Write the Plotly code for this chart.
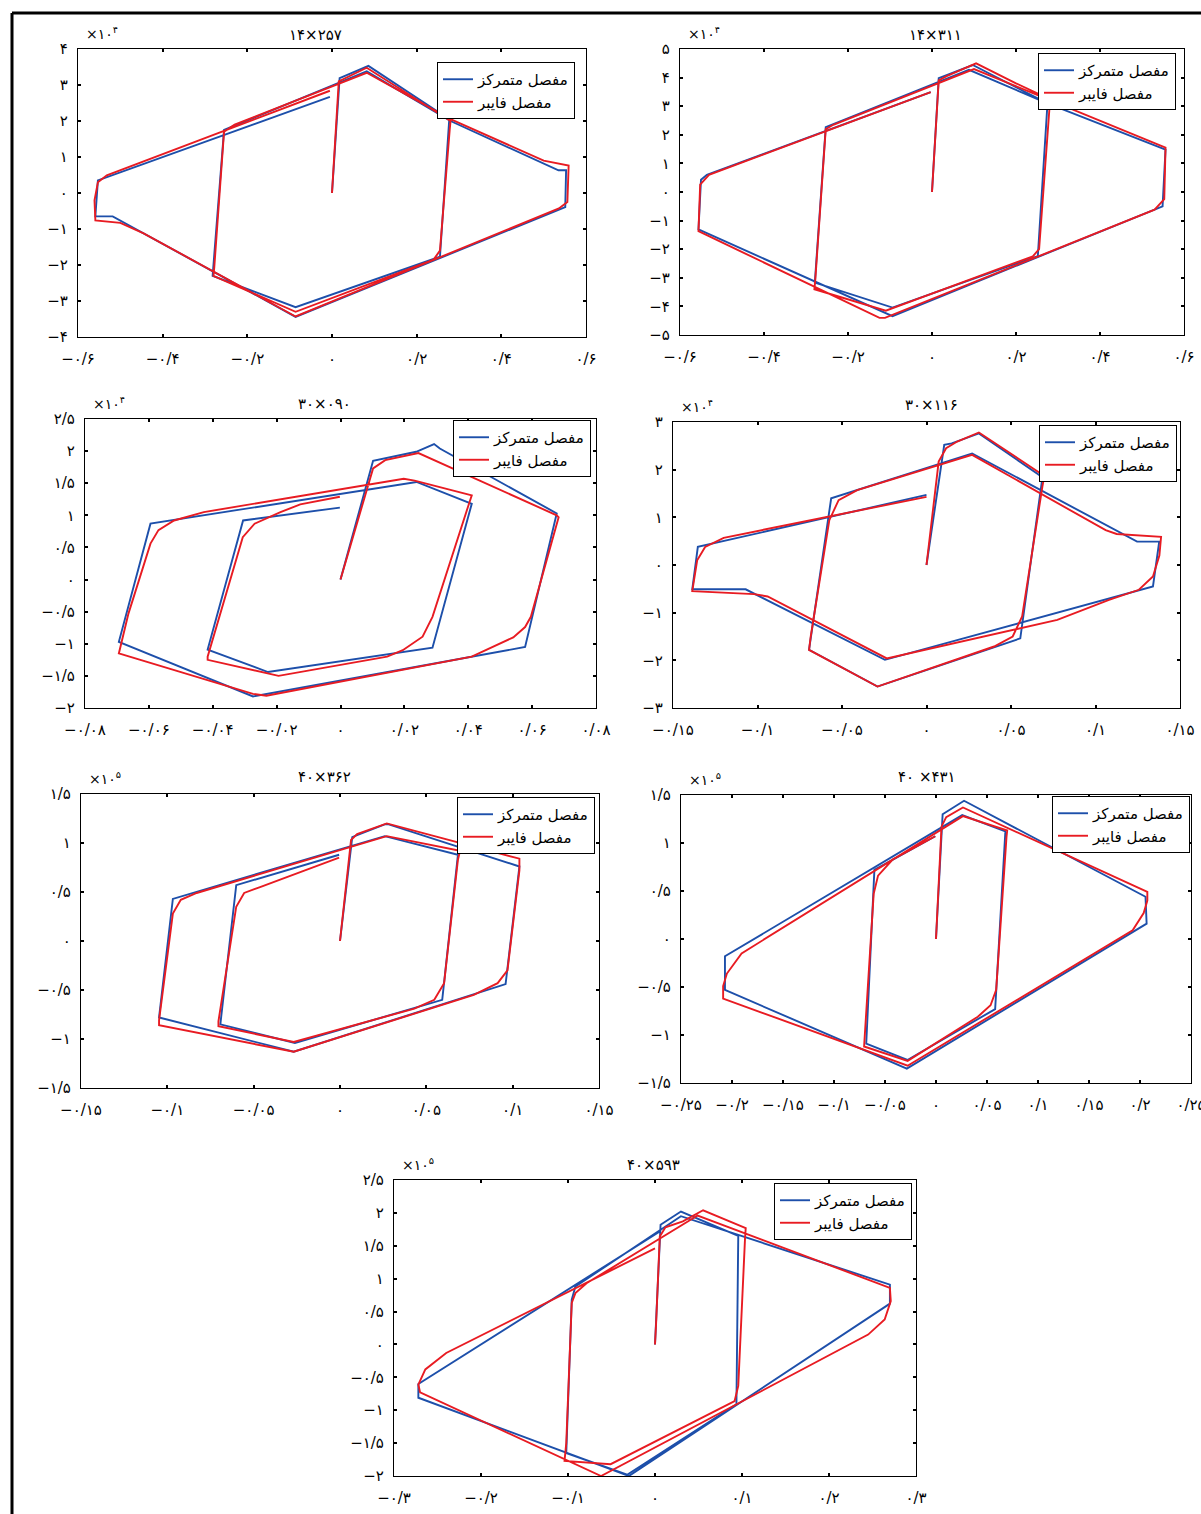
import plotly.graph_objects as go

W, H = 1201, 1514

# ---------------- data (force in axis units: x10^4 or x10^5 as labelled) ----------------
lumped_14x257 = [(0, 0), (0.018, 3.19), (0.086, 3.53), (0.277, 2.05), (0.255, -1.77), (-0.086, -3.17),
                 (-0.282, -2.3), (-0.255, 1.75), (0.082, 3.38), (0.28, 2.0), (0.535, 0.63), (0.553, 0.63),
                 (0.551, -0.39), (-0.086, -3.44), (-0.518, -0.65), (-0.559, -0.65), (-0.553, 0.35),
                 (-0.005, 2.67)]
fiber_14x257 = [(0, 0), (0.016, 3.1), (0.082, 3.48), (0.28, 2.0), (0.278, 1.75), (0.255, -1.6), (0.24, -1.85),
                (-0.086, -3.3), (-0.28, -2.3), (-0.278, -2.05), (-0.255, 1.7), (-0.23, 1.9), (0.082, 3.34),
                (0.28, 2.05), (0.5, 0.9), (0.536, 0.81), (0.559, 0.76), (0.556, -0.25), (0.536, -0.43),
                (-0.086, -3.43), (-0.445, -1.12), (-0.5, -0.83), (-0.559, -0.76), (-0.561, -0.2),
                (-0.553, 0.3), (-0.532, 0.49), (-0.005, 2.84)]

lumped_14x311 = [(0, 0), (0.016, 3.98), (0.097, 4.44), (0.275, 3.1), (0.252, -2.24), (-0.094, -4.04),
                 (-0.279, -3.17), (-0.253, 2.27), (0.088, 4.27), (0.275, 3.1), (0.556, 1.48), (0.549, -0.5),
                 (-0.094, -4.34), (-0.556, -1.31), (-0.55, 0.43), (-0.536, 0.6), (-0.003, 3.49)]
fiber_14x311 = [(0, 0), (0.016, 3.9), (0.035, 4.05), (0.105, 4.5), (0.2, 3.8), (0.28, 3.25), (0.28, 3.0),
                (0.255, -2.0), (0.24, -2.25), (-0.11, -4.15), (-0.28, -3.4), (-0.278, -3.1), (-0.253, 2.2),
                (-0.235, 2.35), (0.1, 4.3), (0.556, 1.55), (0.553, -0.25), (0.53, -0.62), (-0.112, -4.4),
                (-0.125, -4.4), (-0.556, -1.37), (-0.552, 0.26), (-0.531, 0.6), (-0.003, 3.49)]

lumped_30x090 = [(0, 0), (0.0102, 1.85), (0.0237, 1.99), (0.0293, 2.11), (0.0311, 2.04), (0.0677, 1.03),
                 (0.0578, -1.05), (-0.0274, -1.82), (-0.0694, -0.97), (-0.0595, 0.87), (0.0238, 1.52),
                 (0.0411, 1.18), (0.0288, -1.06), (-0.0227, -1.44), (-0.0416, -1.09), (-0.0305, 0.92),
                 (-0.0002, 1.12)]
fiber_30x090 = [(0, 0), (0.0084, 1.44), (0.0102, 1.73), (0.014, 1.86), (0.0244, 1.97), (0.0677, 1.0),
                (0.0683, 0.97), (0.0596, -0.58), (0.0578, -0.74), (0.0541, -0.9), (0.0467, -1.07),
                (0.0411, -1.2), (-0.0232, -1.81), (-0.0274, -1.78), (-0.0694, -1.15), (-0.0664, -0.53),
                (-0.0595, 0.56), (-0.057, 0.77), (-0.0521, 0.92), (-0.0428, 1.05), (0.0198, 1.57),
                (0.0232, 1.54), (0.0411, 1.31), (0.0399, 1.13), (0.0288, -0.58), (0.0257, -0.89),
                (0.0195, -1.1), (0.0146, -1.2), (-0.0194, -1.5), (-0.0416, -1.25), (-0.0416, -1.2),
                (-0.0306, 0.66), (-0.0269, 0.87), (-0.0188, 1.05), (-0.0126, 1.17), (-0.0002, 1.29)]

lumped_30x116 = [(0, 0), (0.0105, 2.52), (0.0149, 2.55), (0.031, 2.76), (0.0686, 1.84), (0.0555, -1.54),
                 (-0.029, -2.55), (-0.0695, -1.78), (-0.0564, 1.4), (0.027, 2.34), (0.1246, 0.49),
                 (0.1377, 0.49), (0.134, -0.45), (-0.0246, -1.99), (-0.107, -0.51), (-0.1386, -0.51),
                 (-0.1353, 0.38), (0.0, 1.47)]
fiber_30x116 = [(0, 0), (0.0072, 2.17), (0.0116, 2.45), (0.0182, 2.59), (0.031, 2.78), (0.0697, 1.87),
                (0.0686, 1.65), (0.0566, -1.08), (0.051, -1.5), (0.04, -1.71), (-0.029, -2.55),
                (-0.0695, -1.78), (-0.0685, -1.5), (-0.0575, 0.94), (-0.052, 1.36), (-0.041, 1.57),
                (0.027, 2.31), (0.106, 0.73), (0.1125, 0.65), (0.1388, 0.59), (0.1378, 0.2), (0.134, -0.24),
                (0.1257, -0.52), (0.108, -0.73), (0.0774, -1.15), (-0.0235, -1.96), (-0.094, -0.66),
                (-0.102, -0.61), (-0.1386, -0.55), (-0.1357, 0.1), (-0.131, 0.38), (-0.12, 0.57), (0.0, 1.43)]

lumped_40x362 = [(0, 0), (0.0071, 1.06), (0.0099, 1.08), (0.0259, 1.19), (0.0282, 1.19), (0.1039, 0.76),
                 (0.0959, -0.44), (-0.0268, -1.13), (-0.1048, -0.78), (-0.0968, 0.43), (0.0259, 1.07),
                 (0.0683, 0.88), (0.0592, -0.6), (-0.0261, -1.04), (-0.0693, -0.85), (-0.0601, 0.57),
                 (-0.0005, 0.88)]
fiber_40x362 = [(0, 0), (0.0064, 1.03), (0.0099, 1.09), (0.0271, 1.2), (0.1039, 0.84), (0.1039, 0.72),
                (0.097, -0.3), (0.0913, -0.43), (0.0775, -0.55), (-0.0268, -1.13), (-0.1048, -0.86),
                (-0.1048, -0.81), (-0.0968, 0.28), (-0.0922, 0.42), (-0.083, 0.49), (0.0271, 1.07),
                (0.0695, 0.92), (0.0683, 0.83), (0.0603, -0.43), (0.0546, -0.6), (0.0431, -0.69),
                (-0.0268, -1.03), (-0.0704, -0.87), (-0.0704, -0.82), (-0.0601, 0.35), (-0.0555, 0.49),
                (-0.0463, 0.55), (-0.0005, 0.85)]

lumped_40x431 = [(0, 0), (0.0065, 1.3), (0.0275, 1.44), (0.2054, 0.44), (0.2065, 0.16), (-0.0286, -1.35),
                 (-0.2069, -0.53), (-0.2069, -0.18), (0.0257, 1.29), (0.068, 1.12), (0.058, -0.73),
                 (-0.028, -1.26), (-0.0684, -1.09), (-0.0604, 0.72), (-0.0007, 1.07)]
fiber_40x431 = [(0, 0), (0.0054, 1.17), (0.01, 1.27), (0.0264, 1.37), (0.2072, 0.49), (0.2072, 0.4),
                (0.2036, 0.27), (0.1928, 0.09), (-0.0278, -1.32), (-0.2087, -0.62), (-0.2087, -0.49),
                (-0.205, -0.36), (-0.1906, -0.15), (0.0264, 1.28), (0.0698, 1.13), (0.0691, 1.06),
                (0.059, -0.53), (0.0535, -0.69), (0.041, -0.81), (-0.0278, -1.27), (-0.0705, -1.12),
                (-0.0611, 0.47), (-0.0568, 0.66), (-0.0423, 0.83), (-0.0007, 1.07)]

lumped_40x593 = [(0, 0), (0.0064, 1.82), (0.0298, 2.02), (0.0957, 1.65), (0.0936, -0.91), (-0.032, -1.98),
                 (-0.102, -1.65), (-0.0957, 0.68), (-0.0915, 0.88), (0.0298, 1.95), (0.27, 0.91),
                 (0.27, 0.62), (-0.03, -2.0), (-0.272, -0.81), (-0.272, -0.6), (0.006, 1.72)]
fiber_40x593 = [(0, 0), (0.0013, 0.33), (0.0055, 1.64), (0.012, 1.78), (0.032, 1.87), (0.0553, 2.04),
                (0.1043, 1.77), (0.1035, 1.62), (0.0957, -0.63), (0.0915, -0.86), (0.083, -0.92),
                (-0.051, -1.82), (-0.104, -1.77), (-0.102, -1.5), (-0.0957, 0.63), (-0.0915, 0.78),
                (-0.0787, 0.93), (0.049, 1.96), (0.27, 0.86), (0.271, 0.66), (0.264, 0.38), (0.245, 0.15),
                (-0.062, -2.0), (-0.223, -1.01), (-0.27, -0.73), (-0.272, -0.61), (-0.264, -0.38),
                (-0.24, -0.13), (0.0, 1.46)]

# tick values
xticks_14 = [-0.6, -0.4, -0.2, 0, 0.2, 0.4, 0.6]
xticks_30a = [-0.08, -0.06, -0.04, -0.02, 0, 0.02, 0.04, 0.06, 0.08]
xticks_015 = [-0.15, -0.1, -0.05, 0, 0.05, 0.1, 0.15]
xticks_025 = [-0.25, -0.2, -0.15, -0.1, -0.05, 0, 0.05, 0.1, 0.15, 0.2, 0.25]
xticks_03 = [-0.3, -0.2, -0.1, 0, 0.1, 0.2, 0.3]
yticks_4 = [-4, -3, -2, -1, 0, 1, 2, 3, 4]
yticks_5 = [-5, -4, -3, -2, -1, 0, 1, 2, 3, 4, 5]
yticks_25 = [-2, -1.5, -1, -0.5, 0, 0.5, 1, 1.5, 2, 2.5]
yticks_3 = [-3, -2, -1, 0, 1, 2, 3]
yticks_15 = [-1.5, -1, -0.5, 0, 0.5, 1, 1.5]

names = ["مفصل متمرکز", "مفصل فایبر"]
BLUE = "#1d4faa"
RED = "#e81b22"
FONT = "DejaVu Sans"

FA = str.maketrans("0123456789", "۰۱۲۳۴۵۶۷۸۹")


def fa_num(v):
    s = f"{abs(v):.3f}".rstrip("0").rstrip(".")
    s = s.replace(".", "/").translate(FA)
    return ("−" + s) if v < 0 else s


# box = (left, right, top, bottom) in px; legend = (right, top); title position
panels = [
    dict(title="۱۴×۲۵۷", exp="۴", lumped=lumped_14x257, fiber=fiber_14x257, xr=(-0.6, 0.6), xt=xticks_14,
         yr=(-4, 4), yt=yticks_4, box=(78, 586, 49, 337), leg=(575, 62), tx=315, ty=35),
    dict(title="۱۴×۳۱۱", exp="۴", lumped=lumped_14x311, fiber=fiber_14x311, xr=(-0.6, 0.6), xt=xticks_14,
         yr=(-5, 5), yt=yticks_5, box=(680, 1184, 49, 335), leg=(1176, 53), tx=935, ty=35),
    dict(title="۳۰×۰۹۰", exp="۴", lumped=lumped_30x090, fiber=fiber_30x090, xr=(-0.08, 0.08), xt=xticks_30a,
         yr=(-2, 2.5), yt=yticks_25, box=(85, 596, 419, 708), leg=(591, 420), tx=324, ty=404),
    dict(title="۳۰×۱۱۶", exp="۴", lumped=lumped_30x116, fiber=fiber_30x116, xr=(-0.15, 0.15), xt=xticks_015,
         yr=(-3, 3), yt=yticks_3, box=(673, 1180, 422, 708), leg=(1177, 425), tx=931, ty=405),
    dict(title="۴۰×۳۶۲", exp="۵", lumped=lumped_40x362, fiber=fiber_40x362, xr=(-0.15, 0.15), xt=xticks_015,
         yr=(-1.5, 1.5), yt=yticks_15, box=(81, 599, 794, 1088), leg=(595, 797), tx=324, ty=777),
    dict(title="۴۰ ×۴۳۱", exp="۵", lumped=lumped_40x431, fiber=fiber_40x431, xr=(-0.25, 0.25), xt=xticks_025,
         yr=(-1.5, 1.5), yt=yticks_15, box=(681, 1191, 795, 1083), leg=(1190, 796), tx=927, ty=777),
    dict(title="۴۰×۵۹۳", exp="۵", lumped=lumped_40x593, fiber=fiber_40x593, xr=(-0.3, 0.3), xt=xticks_03,
         yr=(-2, 2.5), yt=yticks_25, box=(394, 916, 1180, 1476), leg=(912, 1183), tx=653, ty=1165),
]

fig = go.Figure()
layout = dict(template="none", width=W, height=H, margin=dict(l=0, r=0, t=0, b=0, autoexpand=False),
              paper_bgcolor="white", plot_bgcolor="white", showlegend=True,
              font=dict(family=FONT, color="black", size=14))
annotations = []

for i, p in enumerate(panels, start=1):
    sfx = "" if i == 1 else str(i)
    x0, x1, y0, y1 = p["box"]
    axis_common = dict(ticks="inside", ticklen=3, tickwidth=1.5, tickcolor="black", mirror="ticks",
                       showline=True, linecolor="black", linewidth=1.2, showgrid=False, zeroline=False,
                       automargin=False, ticklabeloverflow="allow",
                       tickfont=dict(family=FONT, size=15, color="black"))
    layout["xaxis" + sfx] = dict(domain=[x0 / W, x1 / W], range=list(p["xr"]), anchor="y" + sfx,
                                 tickmode="array", tickvals=p["xt"], ticktext=[fa_num(v) for v in p["xt"]],
                                 ticklabelstandoff=8, **axis_common)
    layout["yaxis" + sfx] = dict(domain=[1 - y1 / H, 1 - y0 / H], range=list(p["yr"]), anchor="x" + sfx,
                                 tickmode="array", tickvals=p["yt"], ticktext=[fa_num(v) for v in p["yt"]],
                                 ticklabelstandoff=6, **axis_common)
    lx, ly = p["leg"]
    layout["legend" + sfx] = dict(x=lx / W, y=1 - ly / H, xanchor="right", yanchor="top",
                                  bordercolor="black", borderwidth=1, bgcolor="white",
                                  font=dict(family=FONT, size=15, color="black"), tracegroupgap=0)
    for series, color, name in ((p["lumped"], BLUE, names[0]), (p["fiber"], RED, names[1])):
        fig.add_trace(go.Scatter(x=[pt[0] for pt in series], y=[pt[1] for pt in series], mode="lines",
                                 line=dict(color=color, width=1.9), name=name,
                                 xaxis="x" + sfx if sfx else "x", yaxis="y" + sfx if sfx else "y",
                                 legend="legend" + sfx, showlegend=True, cliponaxis=True))
    annotations.append(dict(text=p["title"], x=p["tx"] / W, y=1 - p["ty"] / H, xref="paper", yref="paper",
                            showarrow=False, xanchor="center", yanchor="middle",
                            font=dict(family=FONT, size=15, color="black")))
    annotations.append(dict(text="×۱۰<sup>" + p["exp"] + "</sup>", x=(x0 + 6) / W, y=1 - (y0 - 5) / H,
                            xref="paper", yref="paper", showarrow=False, xanchor="left", yanchor="bottom",
                            font=dict(family=FONT, size=14, color="black")))

layout["annotations"] = annotations
# outer frame (top and left edges of the page border)
layout["shapes"] = [
    dict(type="line", xref="paper", yref="paper", x0=12 / W, x1=1.0, y0=1 - 13 / H, y1=1 - 13 / H,
         line=dict(color="black", width=3)),
    dict(type="line", xref="paper", yref="paper", x0=12 / W, x1=12 / W, y0=0, y1=1 - 13 / H,
         line=dict(color="black", width=3)),
]
fig.update_layout(**layout)
fig.write_html("out.html")
